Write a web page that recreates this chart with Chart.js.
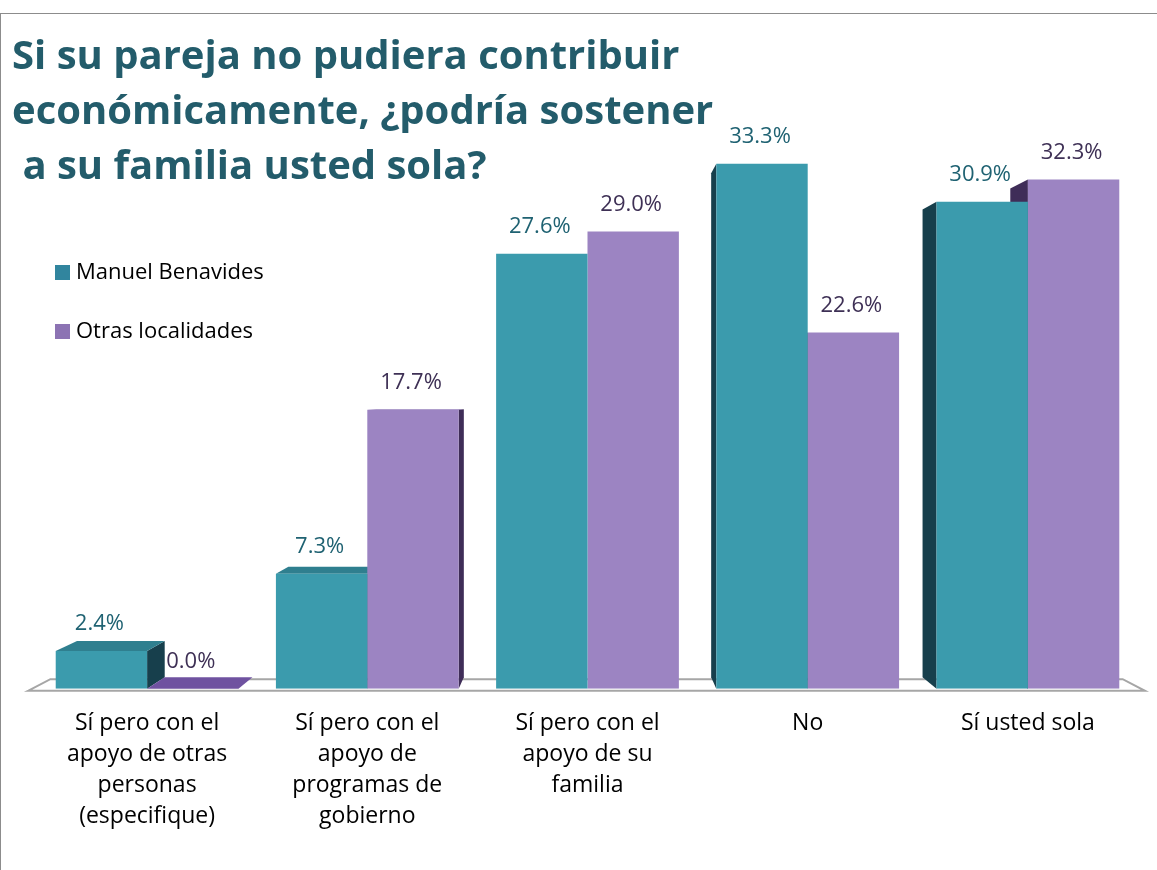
<!DOCTYPE html>
<html>
<head>
<meta charset="utf-8">
<script src="https://cdn.jsdelivr.net/npm/chart.js@4.4.1/dist/chart.umd.min.js"></script>
<style>
  html, body { margin: 0; padding: 0; background: #fff; }
  #wrap { position: relative; width: 1157px; height: 870px; overflow: hidden; }
  #frame { position: absolute; left: 0; top: 13px; width: 1200px; height: 900px; border: 1px solid #8c8c8c; box-sizing: border-box; }
  #chart { position: absolute; left: 0; top: 0; }
  #title { position: absolute; left: 12px; top: 26px; font-family: "Open Sans", sans-serif; font-weight: bold;
           font-size: 40px; line-height: 55px; color: #235c6b; white-space: pre; }
  .leg { position: absolute; left: 55px; font-family: "Open Sans", sans-serif; font-size: 22px; color: #000; }
  .leg span { display: inline-block; width: 15px; height: 15px; margin-right: 6px; vertical-align: -1px; }
</style>
</head>
<body>
<div id="wrap">
  <div id="frame"></div>
  <canvas id="chart" width="1157" height="870"></canvas>
  <div id="title">Si su pareja no pudiera contribuir
económicamente, ¿podría sostener
 a su familia usted sola?</div>
  <div class="leg" style="top:255px"><span style="background:#31859e"></span>Manuel Benavides</div>
  <div class="leg" style="top:314px"><span style="background:#8c73b3"></span>Otras localidades</div>
</div>
<script>
// Données du graphique
const categories = [
    ['Sí pero con el', 'apoyo de otras', 'personas', '(especifique)'],
    ['Sí pero con el', 'apoyo de', 'programas de', 'gobierno'],
    ['Sí pero con el', 'apoyo de su', 'familia'],
    ['No'],
    ['Sí usted sola']
];
const seriesNames = ['Manuel Benavides', 'Otras localidades'];
const manuelBenavides = [2.4, 7.3, 27.6, 33.3, 30.9];
const otrasLocalidades = [0.0, 17.7, 29.0, 22.6, 32.3];

const frontColors = ['#3b9bad', '#9c84c2'];
const sideColors = ['#173f4c', '#3f2d58'];
const topColors = ['#2f7f8f', '#6f52a0'];
const labelColors = ['#1f6272', '#3e3055'];

// Plugin pour le sol, les faces latérales et les étiquettes (effet 3D)
const fake3d = {
    id: 'fake3d',
    beforeDatasetsDraw(chart) {
        const ctx = chart.ctx;
        const area = chart.chartArea;
        const base = chart.scales.y.getPixelForValue(0);
        // point de fuite approximatif
        const vx = (area.left + area.right) / 2;
        const vy = 400;
        const t = 0.04;
        const back = (x, y) => [x + t * (vx - x), y + t * (vy - y)];

        ctx.save();
        // sol
        const fl = area.left - 9, fr = area.right + 7, fy = base + 2;
        const bl = back(fl, fy), br = back(fr, fy);
        ctx.strokeStyle = '#a6a6a6';
        ctx.lineWidth = 2;
        ctx.beginPath();
        ctx.moveTo(fl, fy);
        ctx.lineTo(bl[0], bl[1]);
        ctx.lineTo(br[0], br[1]);
        ctx.lineTo(fr, fy);
        ctx.closePath();
        ctx.stroke();

        // faces latérales et supérieures
        chart.data.datasets.forEach((ds, di) => {
            chart.getDatasetMeta(di).data.forEach(bar => {
                const L = bar.x - bar.width / 2;
                const R = bar.x + bar.width / 2;
                const T = bar.y;
                const B = base;
                const LT = back(L, T), RT = back(R, T), LB = back(L, B), RB = back(R, B);
                ctx.fillStyle = sideColors[di];
                ctx.beginPath();
                if (bar.x < vx) {
                    ctx.moveTo(R, T); ctx.lineTo(RT[0], RT[1]); ctx.lineTo(RB[0], RB[1]); ctx.lineTo(R, B);
                } else {
                    ctx.moveTo(L, T); ctx.lineTo(LT[0], LT[1]); ctx.lineTo(LB[0], LB[1]); ctx.lineTo(L, B);
                }
                ctx.closePath();
                ctx.fill();
                if (T > vy) {
                    ctx.fillStyle = topColors[di];
                    ctx.beginPath();
                    ctx.moveTo(L, T); ctx.lineTo(LT[0], LT[1]); ctx.lineTo(RT[0], RT[1]); ctx.lineTo(R, T);
                    ctx.closePath();
                    ctx.fill();
                }
            });
        });
        ctx.restore();
    },
    afterDatasetsDraw(chart) {
        const ctx = chart.ctx;
        ctx.save();
        ctx.font = '22px "Open Sans", sans-serif';
        ctx.textAlign = 'center';
        ctx.textBaseline = 'middle';
        chart.data.datasets.forEach((ds, di) => {
            chart.getDatasetMeta(di).data.forEach((bar, i) => {
                ctx.fillStyle = labelColors[di];
                ctx.fillText(ds.data[i].toFixed(1) + '%', bar.x - 2, bar.y - 27);
            });
        });
        ctx.restore();
    }
};

const ctx = document.getElementById('chart').getContext('2d');
new Chart(ctx, {
    type: 'bar',
    data: {
        labels: categories,
        datasets: [
            { label: seriesNames[0], data: manuelBenavides, backgroundColor: frontColors[0], borderWidth: 0 },
            { label: seriesNames[1], data: otrasLocalidades, backgroundColor: frontColors[1], borderWidth: 0 }
        ]
    },
    options: {
        responsive: false,
        animation: false,
        layout: { padding: { left: 37, right: 19, top: 137, bottom: 19 } },
        categoryPercentage: 0.83,
        barPercentage: 1.0,
        scales: {
            x: {
                grid: { display: false, drawTicks: false },
                border: { display: false },
                ticks: {
                    padding: 19,
                    color: '#000',
                    maxRotation: 0,
                    autoSkip: false,
                    font: { family: '"Open Sans", sans-serif', size: 23, lineHeight: 1.35 }
                }
            },
            y: {
                display: false,
                min: 0,
                max: 35
            }
        },
        plugins: {
            legend: { display: false },
            tooltip: { enabled: false }
        }
    },
    plugins: [fake3d]
});
</script>
</body>
</html>
